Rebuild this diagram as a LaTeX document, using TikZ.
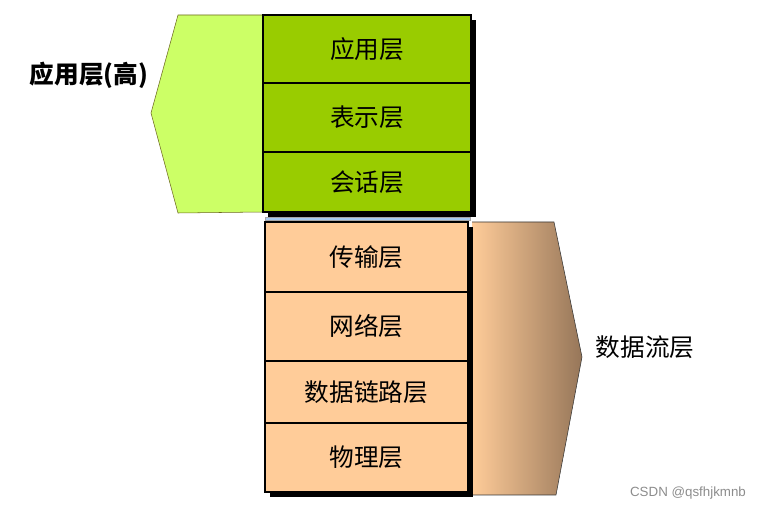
\documentclass[tikz,border=0pt]{standalone}
\usepackage{fontspec}
\setmainfont{Noto Sans CJK SC}
\setsansfont{Liberation Sans}
\usetikzlibrary{positioning,shadows,backgrounds}
\definecolor{Leaf}{HTML}{99CC00}
\definecolor{Lime}{HTML}{CCFF66}
\definecolor{Peach}{HTML}{FFCC99}
\definecolor{PeachMid}{HTML}{E8B98B}
\definecolor{Tan}{HTML}{967659}
\definecolor{Sky}{HTML}{A6CAF0}

\begin{document}
\begin{tikzpicture}[x=.75pt,y=-.75pt,node distance=0pt,
 lay/.style={rectangle,draw=black,line width=2.2pt,inner sep=0pt,outer sep=0pt,
  minimum height=#1,font=\fontsize{18.5}{20}\selectfont,
  drop shadow={shadow xshift=3.6pt,shadow yshift=-3.6pt,fill=black,opacity=1}},
 up/.style={lay=#1,fill=Leaf,minimum width=156pt},
 low/.style={lay=#1,fill=Peach,minimum width=152.25pt},
 side/.style={font=\fontsize{18.5}{20}\selectfont}]
\useasboundingbox (0,0) rectangle (765,509);
% application group
\node[up=51pt] (app) at (367,49) {应用层};
\node[up=51.75pt,below=of app] (pres) {表示层};
\node[up=45pt,below=of pres] (sess) {会话层};
% data flow group
\node[low=52.5pt] (trans) at (366.5,257) {传输层};
\node[low=51.75pt,below=of trans] (net) {网络层};
\node[low=46.5pt,below=of net] (link) {数据链路层};
\node[low=51.75pt,below=of link] (phys) {物理层};
\fill[Sky,draw=gray!70,line width=.3pt] (265,217) rectangle (470,220);
% side arrows
\begin{scope}[on background layer]
\fill[Lime,draw=olive!70!black,line width=.4pt] (178,15) -- (app.north west)
 -- (sess.south west) -- (178,213) -- (151,113) -- cycle;
\shade[left color=Peach,middle color=PeachMid,right color=Tan]
 (472,222) -- (554,222) -- (582,357) -- (556,495) -- (472,495) -- cycle;
\draw[black!80,line width=.4pt] (472,222) -- (554,222) -- (582,357) -- (556,495) -- (472,495);
\end{scope}
% labels
\node[side,font=\fontsize{18.5}{20}\selectfont\bfseries] (high) at (89,75) {应用层(高)};
\node[side] (flow) at (645,347) {数据流层};
\node[font=\sffamily\fontsize{10}{12}\selectfont,text=black!45] (mark) at (688,493) {CSDN @qsfhjkmnb};
\end{tikzpicture}
\end{document}
